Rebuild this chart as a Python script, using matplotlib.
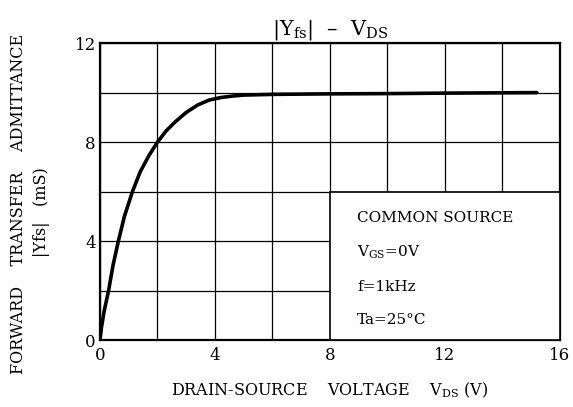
import matplotlib.pyplot as plt
from matplotlib.patches import Rectangle

plt.rcParams['font.family'] = 'DejaVu Serif'
plt.rcParams['mathtext.fontset'] = 'dejavuserif'

# curve
vds = [0, 0.05, 0.15, 0.3, 0.45, 0.64, 0.85, 1.13, 1.4, 1.7, 2.0, 2.3, 2.6, 3.0, 3.4, 3.8,
       4.2, 4.6, 5.0, 6.0, 8.0, 10.0, 12.0, 15.2]
yfs = [0, 0.5, 1.2, 2.0, 3.0, 4.0, 5.0, 6.0, 6.8, 7.45, 8.0, 8.45, 8.8, 9.2, 9.5, 9.7,
       9.8, 9.86, 9.9, 9.93, 9.95, 9.96, 9.98, 10.0]

x_ticks = [0, 4, 8, 12, 16]
y_ticks = [0, 4, 8, 12]
conditions = ["COMMON SOURCE", r"$\mathrm{V_{GS}}$=0V", "f=1kHz", "Ta=25°C"]

fig = plt.figure(figsize=(5.73, 4.07), dpi=100)
ax = fig.add_axes([0.1745, 0.1646, 0.8025, 0.7294])

ax.plot(vds, yfs, color='black', lw=2.6, zorder=4, solid_capstyle='round',
        solid_joinstyle='round')

ax.set_xlim(0, 16)
ax.set_ylim(0, 12)
ax.set_xticks(x_ticks)
ax.set_yticks(y_ticks)
ax.set_xticks(range(0, 17, 2), minor=True)
ax.set_yticks(range(0, 13, 2), minor=True)
ax.grid(True, which='both', color='black', lw=0.9)
ax.tick_params(which='both', length=0, labelsize=12)
ax.tick_params(axis='x', pad=5)
ax.tick_params(axis='y', pad=3)
for s in ax.spines.values():
    s.set_linewidth(1.6)

# condition box
ax.add_patch(Rectangle((8, 0), 8, 6, facecolor='white', edgecolor='black', lw=1.2, zorder=3))
for txt, yy in zip(conditions, [4.93, 3.56, 2.14, 0.8]):
    ax.text(8.95, yy, txt, fontsize=11, va='center', ha='left', zorder=5)

ax.set_title(r"|$\mathrm{Y_{fs}}$|  –  $\mathrm{V_{DS}}$", fontsize=15, pad=6)
ax.set_xlabel(r"DRAIN-SOURCE    VOLTAGE    $\mathrm{V_{DS}}$ (V)", fontsize=11.5, labelpad=12)
fig.text(0.033, 0.5, "FORWARD    TRANSFER    ADMITTANCE", rotation=90,
         fontsize=11.5, ha='center', va='center')
fig.text(0.072, 0.48, r"|Yfs|   (mS)", rotation=90,
         fontsize=11.5, ha='center', va='center')

fig.savefig("out.png", dpi=100)
